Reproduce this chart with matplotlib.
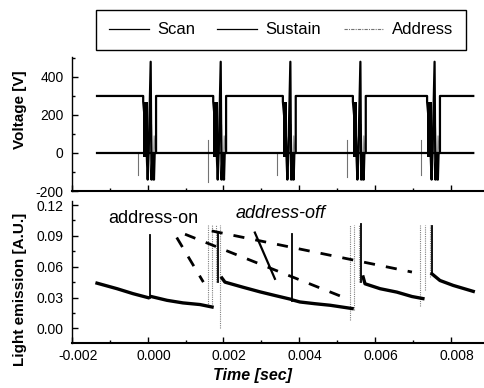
import numpy as np
import matplotlib
matplotlib.use('Agg')
import matplotlib.pyplot as plt
from matplotlib.ticker import MultipleLocator, FormatStrFormatter
from matplotlib.lines import Line2D
from matplotlib.transforms import ScaledTranslation

plt.rcParams['font.family'] = ['Liberation Sans', 'DejaVu Sans']
plt.rcParams['axes.unicode_minus'] = False

# ---- voltage panel ----
# sustain falling edge of each scan group [sec]
fall_times = [-0.00012, 0.00173, 0.00357, 0.00542, 0.00738]
trace_start = -0.00134
trace_end = 0.0086
sustain_high = 300
burst_top = 270
burst_bottom = -20
burst_width = 0.00012
rise_offset = 0.00034

# scan pulse shape, offsets from falling edge
scan_offsets = [0.000092, 0.000119, 0.000145, 0.000198, 0.000219, 0.000246, 0.000285, 0.000304]
scan_volts = [0, -140, 0, 480, -140, 0, -140, 0]

# address pulses
address_pre_offset = -0.00015
address_pre_top = [0, 70, 0, 70, 70]
address_pre_bottom = [-115, -150, -115, -125, -115]
address_offsets = [0.00016, 0.00022, 0.00026, 0.00029, 0.00032]
address_volts = [0, 150, -145, 90, 0]

# ---- light emission panel ----
decay_t = [
    [-0.00134, -0.00081, -0.00039, 0.00001],
    [0.00009, 0.00051, 0.00093, 0.00138, 0.0017],
    [0.00196, 0.00204, 0.00252, 0.00297, 0.00336, 0.00376],
    [0.00384, 0.00402, 0.00442, 0.00482, 0.0054],
    [0.00569, 0.00574, 0.00614, 0.00658, 0.00698, 0.00727],
    [0.00751, 0.00772, 0.00807, 0.0086],
]
decay_v = [
    [0.044, 0.0386, 0.0338, 0.0299],
    [0.031, 0.0273, 0.0248, 0.0232, 0.0208],
    [0.049, 0.045, 0.040, 0.0355, 0.032, 0.0285],
    [0.0275, 0.0257, 0.024, 0.0225, 0.0193],
    [0.05, 0.0434, 0.0386, 0.0353, 0.031, 0.029],
    [0.053, 0.0466, 0.0418, 0.036],
]
spike_t = [0.00006, 0.00186, 0.00380, 0.00564, 0.00751]
spike_low = [0.030, 0.045, 0.027, 0.045, 0.053]
spike_high = [0.0906, 0.094, 0.092, 0.102, 0.100]

gray_t = [0.0016, 0.0017, 0.0018, 0.0019, 0.00535, 0.00545, 0.00559, 0.00719, 0.00733, 0.00746]
gray_low = [0.022, 0.024, 0.045, 0.0, 0.008, 0.018, 0.045, 0.022, 0.037, 0.05]
gray_high = [0.101] * 10

dash_lines = [
    ([0.000766, 0.00147], [0.0884, 0.045]),
    ([0.000985, 0.00508], [0.0916, 0.0316]),
    ([0.00169, 0.00698], [0.0948, 0.0548]),
]
pointer_t = [0.00283, 0.00336]
pointer_v = [0.0932, 0.0482]

fig = plt.figure(figsize=(4.85, 3.88), dpi=100)
ax1 = fig.add_axes([0.1485, 0.5077, 0.8515, 0.3454])
ax2 = fig.add_axes([0.1485, 0.1152, 0.8515, 0.367])

# build traces
sus_t, sus_v = [trace_start], [sustain_high]
scan_t, scan_v = [trace_start], [0]
for tf in fall_times:
    sus_t += [tf, tf, tf + burst_width, tf + rise_offset, tf + rise_offset]
    sus_v += [sustain_high, burst_top, 0, 0, sustain_high]
    scan_t += [tf + o for o in scan_offsets]
    scan_v += scan_volts
sus_t.append(trace_end)
sus_v.append(sustain_high)
scan_t.append(trace_end)
scan_v.append(0)

for i, tf in enumerate(fall_times):
    ax1.fill_between([tf, tf + burst_width], burst_bottom, burst_top, color='black', lw=0)
    ax1.plot([tf + address_pre_offset] * 2, [address_pre_top[i], address_pre_bottom[i]],
             color='0.45', lw=0.8)
    ax1.plot([tf + o for o in address_offsets], address_volts, color='0.55', lw=0.8)

ax1.plot(scan_t, scan_v, color='black', lw=1.6)
ax1.plot(sus_t, sus_v, color='black', lw=1.6)

ax1.set_xlim(-0.002, 0.00891)
ax1.set_ylim(-200, 505)
ax1.yaxis.set_major_locator(MultipleLocator(200))
ax1.yaxis.set_minor_locator(MultipleLocator(100))
ax1.xaxis.set_major_locator(MultipleLocator(0.002))
ax1.xaxis.set_minor_locator(MultipleLocator(0.001))
ax1.set_xticklabels([])
ax1.set_ylabel('Voltage [V]', fontsize=11, fontweight='bold')
ax1.yaxis.set_label_coords(-0.109, 0.61)

# light emission
for g in range(len(gray_t)):
    ax2.plot([gray_t[g]] * 2, [gray_low[g], gray_high[g]], color='0.5', lw=0.8, ls=(0, (1, 1)))
for s in range(len(spike_t)):
    ax2.plot([spike_t[s]] * 2, [spike_low[s], spike_high[s]], color='black', lw=1.3)
for seg_t, seg_v in zip(decay_t, decay_v):
    ax2.plot(seg_t, seg_v, color='black', lw=2.4)
for dt, dv in dash_lines:
    ax2.plot(dt, dv, color='black', lw=2.0, ls=(0, (4, 4)))
ax2.plot(pointer_t, pointer_v, color='black', lw=1.6)

ax2.text(-0.00105, 0.107, 'address-on', fontsize=13, va='center', ha='left')
ax2.text(0.00231, 0.112, 'address-off', fontsize=13, va='center', ha='left', style='italic')

ax2.set_xlim(-0.002, 0.00891)
ax2.set_ylim(-0.0145, 0.124)
ax2.yaxis.set_major_locator(MultipleLocator(0.03))
ax2.yaxis.set_minor_locator(MultipleLocator(0.015))
ax2.yaxis.set_major_formatter(FormatStrFormatter('%.2f'))
ax2.xaxis.set_major_locator(MultipleLocator(0.002))
ax2.xaxis.set_minor_locator(MultipleLocator(0.001))
ax2.xaxis.set_major_formatter(FormatStrFormatter('%.3f'))
ax2.set_ylabel('Light emission [A.U.]', fontsize=11, fontweight='bold')
ax2.yaxis.set_label_coords(-0.109, 0.38)
ax2.set_xlabel('Time [sec]', fontsize=11.5, fontweight='bold', style='italic')
ax2.xaxis.set_label_coords(0.438, -0.175)

for ax in (ax1, ax2):
    ax.spines['top'].set_visible(False)
    ax.spines['right'].set_visible(False)
    ax.spines['left'].set_linewidth(1.0)
    ax.spines['bottom'].set_linewidth(1.5)
    ax.tick_params(which='major', direction='in', length=4, width=1, labelsize=10)
    ax.tick_params(which='minor', direction='in', length=2, width=1)
    ax.tick_params(axis='y', pad=6)
    ax.tick_params(axis='x', pad=4)

# labels in the scan sit a little right of their ticks
shift = ScaledTranslation(6 / 100, 0, fig.dpi_scale_trans)
for lab in ax2.get_xticklabels():
    lab.set_transform(lab.get_transform() + shift)

handles = [Line2D([], [], color='black', lw=0.9),
           Line2D([], [], color='black', lw=0.9),
           Line2D([], [], color='0.45', lw=0.8, ls=(0, (3, 1, 1, 1)))]
fig.legend(handles, ['Scan', 'Sustain', 'Address'], loc='center', ncol=3, mode='expand',
           bbox_to_anchor=(88 / 485, 1 - 50 / 388, 386 / 485, 40 / 388),
           fontsize=12, frameon=True, fancybox=False, edgecolor='black', framealpha=1,
           handlelength=2.4, handletextpad=0.5, borderpad=0.75)

fig.savefig('out.png', dpi=100)
